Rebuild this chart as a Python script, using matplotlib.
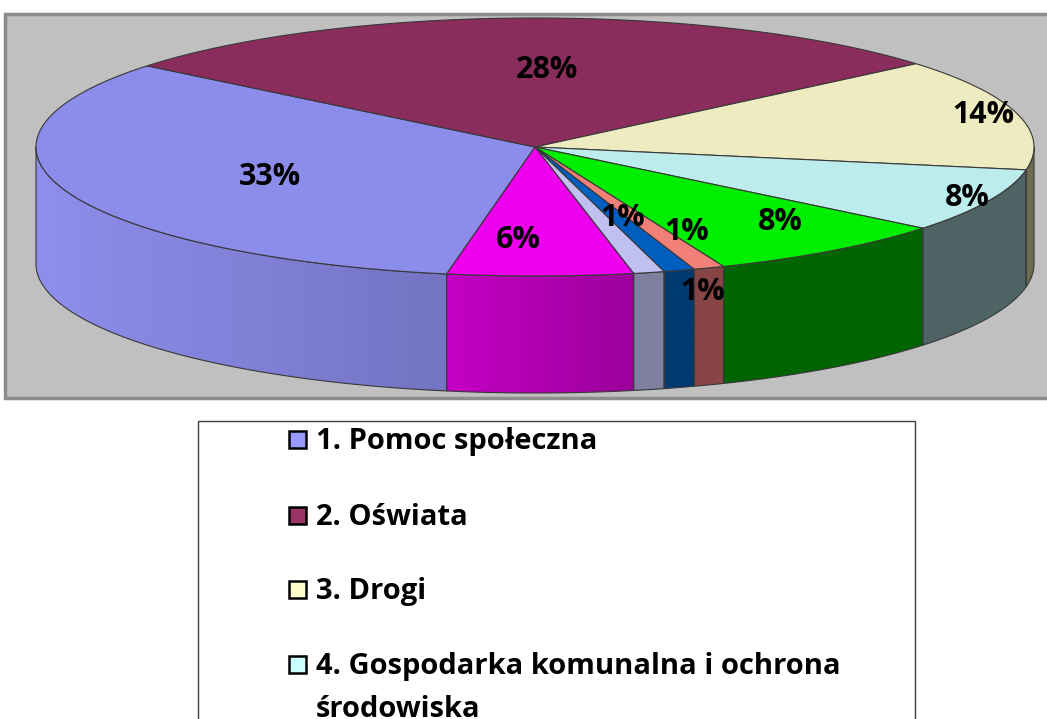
import numpy as np
import matplotlib.pyplot as plt
from matplotlib.patches import Polygon, Rectangle
from matplotlib.colors import to_rgb

# Dane wykresu
kategorie = ['1. Pomoc społeczna', '2. Oświata', '3. Drogi',
             '4. Gospodarka komunalna i ochrona\nśrodowiska']
wartosci = [33, 28, 14, 8, 8, 1, 1, 1, 6]

# Kolory: wierzch i boki (lewy, prawy kolor gradientu)
kolory_gora = ['#8C8CEB', '#8B2D5C', '#EEEBC0', '#BDECEC', '#00EE00',
               '#F08078', '#005EBE', '#C0C0F0', '#EE00EE']
kolory_bok = [('#8E8EEC', '#7474C4'), ('#6A2246', '#6A2246'), ('#6E6B50', '#6E6B50'),
              ('#4E6464', '#4E6464'), ('#006400', '#006400'), ('#884545', '#884545'),
              ('#003A70', '#003A70'), ('#7F7F9F', '#7F7F9F'), ('#C400C4', '#9C009C')]
kolory_leg = ['#9999FF', '#993366', '#FFFFCC', '#CCFFFF']

# Geometria (piksele)
cx, cy, a, b, h = 535, 147, 499, 129, 117
kat_start = 259.8
# pozycje etykiet
poz_etykiet = [(270, 177), (547, 70), (983, 115), (967, 198), (780, 222),
               (687, 232), (703, 292), (623, 218), (518, 240)]

font = ['Open Sans', 'DejaVu Sans']


def punkty(t0, t1, dy=0, n=60):
    t = np.radians(np.linspace(t0, t1, n))
    return np.column_stack([cx + a * np.cos(t), cy - b * np.sin(t) + dy])


fig = plt.figure(figsize=(10.47, 7.19), dpi=100)
ax = fig.add_axes([0, 0, 1, 1])
ax.axis('off')

# tlo obszaru wykresu
ax.add_patch(Rectangle((5, 14), 1080, 384, facecolor='#C0C0C0',
                       edgecolor='#8C8C8C', lw=2.5, zorder=0))

suma = float(sum(wartosci))
cum = np.concatenate([[0], np.cumsum(wartosci)]) / suma * 360
kat0 = kat_start - cum[:-1]
kat1 = kat_start - cum[1:]
widoczne = [(-180, 0), (180, 360)]

# boki z gradientem
for i in range(len(wartosci)):
    hi, lo = kat0[i], kat1[i]
    for w0, w1 in widoczne:
        l, r = max(lo, w0), min(hi, w1)
        if r <= l:
            continue
        gora = punkty(l, r)
        dol = punkty(r, l, dy=h)
        pts = np.vstack([gora, dol])
        x0, x1 = pts[:, 0].min(), pts[:, 0].max()
        y0, y1 = pts[:, 1].min(), pts[:, 1].max()
        c1, c2 = np.array(to_rgb(kolory_bok[i][0])), np.array(to_rgb(kolory_bok[i][1]))
        f = np.linspace(0, 1, 64)[None, :, None]
        img = c1 + (c2 - c1) * f
        im = ax.imshow(img, extent=(x0, x1, y1, y0), aspect='auto',
                       interpolation='bilinear', zorder=1)
        poly = Polygon(pts, closed=True, facecolor='none',
                       edgecolor='#383838', lw=0.8, zorder=2)
        ax.add_patch(poly)
        im.set_clip_path(poly)

ax.set_xlim(0, 1047)
ax.set_ylim(719, 0)

# wierzch
for i in range(len(wartosci)):
    pts = np.vstack([[cx, cy], punkty(kat0[i], kat1[i], n=120)])
    ax.add_patch(Polygon(pts, closed=True, facecolor=kolory_gora[i],
                         edgecolor='#383838', lw=0.8, zorder=3))

# etykiety
for i, v in enumerate(wartosci):
    x, y = poz_etykiet[i]
    ax.text(x, y, f'{v}%', ha='center', va='center', fontsize=22,
            fontweight='bold', family=font, zorder=5)

# legenda
ax.add_patch(Rectangle((198, 421), 717, 400, facecolor='white',
                       edgecolor='#404040', lw=1, zorder=0))
leg_y = [440, 516, 590, 665]
for i, nazwa in enumerate(kategorie):
    ax.add_patch(Rectangle((289, leg_y[i] - 9), 17, 17, facecolor=kolory_leg[i],
                           edgecolor='black', lw=1.8, zorder=4))
    ax.text(316, leg_y[i] - 13, nazwa, ha='left', va='top', fontsize=21,
            fontweight='bold', family=font, linespacing=1.62, zorder=5)

fig.savefig('out.png', dpi=100, facecolor='white')
